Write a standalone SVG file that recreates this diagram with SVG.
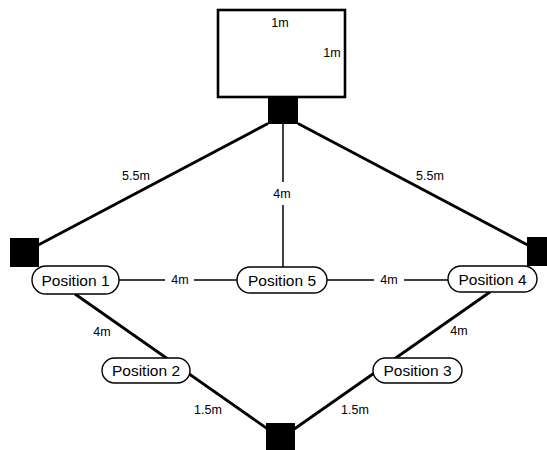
<svg xmlns="http://www.w3.org/2000/svg" width="547" height="450" viewBox="0 0 547 450">
<style>
.thick{stroke:#000;stroke-width:2.8;fill:none}
.thin{stroke:#000;stroke-width:1.5;fill:none}
.sq{fill:#000;stroke:none}
.pill{fill:#fff;stroke:#000;stroke-width:1.4}
.pt{font-family:"Liberation Sans",Arial,sans-serif;font-size:15.5px;fill:#000;text-anchor:middle}
.lb{font-family:"Liberation Sans",Arial,sans-serif;font-size:12.5px;fill:#000;text-anchor:middle}
</style>
<rect width="547" height="450" fill="#fff"/>
<g id="connectors">
<line class="thick" x1="268" y1="123.5" x2="25" y2="252"/>
<line class="thick" x1="298" y1="123.5" x2="541" y2="252"/>
<line class="thick" x1="75" y1="294" x2="272" y2="432"/>
<line class="thick" x1="490" y1="292" x2="290" y2="432"/>
<line class="thin" x1="283" y1="124" x2="283" y2="182"/>
<line class="thin" x1="283" y1="205" x2="283" y2="267"/>
<line class="thin" x1="119" y1="280" x2="165" y2="280"/>
<line class="thin" x1="194" y1="280" x2="237" y2="280"/>
<line class="thin" x1="327" y1="280" x2="374" y2="280"/>
<line class="thin" x1="404" y1="280" x2="448" y2="280"/>
<text class="lb" x="136" y="180">5.5m</text>
<text class="lb" x="430" y="180">5.5m</text>
<text class="lb" x="282" y="198">4m</text>
<text class="lb" x="180" y="284">4m</text>
<text class="lb" x="389" y="284">4m</text>
<text class="lb" x="102" y="336">4m</text>
<text class="lb" x="459" y="334.5">4m</text>
<text class="lb" x="208" y="414">1.5m</text>
<text class="lb" x="355" y="414">1.5m</text>
</g>
<g id="room">
<rect x="218" y="10" width="127" height="87" fill="#fff" stroke="#000" stroke-width="2.6"/>
<text class="lb" x="280" y="27">1m</text>
<text class="lb" x="332" y="57">1m</text>
</g>
<g id="sensor-top"><rect class="sq" x="268" y="96" width="30" height="28"/></g>
<g id="sensor-left"><rect class="sq" x="10" y="238" width="29" height="29"/></g>
<g id="sensor-right"><rect class="sq" x="527" y="237" width="29" height="29"/></g>
<g id="sensor-bottom"><rect class="sq" x="266" y="423" width="29" height="29"/></g>
<g id="position1"><rect class="pill" x="32" y="266" width="87" height="28" rx="14"/><text class="pt" x="75.5" y="285.5">Position 1</text></g>
<g id="position5"><rect class="pill" x="237" y="267" width="90" height="26" rx="13"/><text class="pt" x="282" y="285.5">Position 5</text></g>
<g id="position4"><rect class="pill" x="448" y="266" width="89" height="26" rx="13"/><text class="pt" x="492.5" y="284.5">Position 4</text></g>
<g id="position2"><rect class="pill" x="102" y="358" width="88" height="25" rx="12.5"/><text class="pt" x="146" y="376">Position 2</text></g>
<g id="position3"><rect class="pill" x="373" y="358" width="89" height="25" rx="12.5"/><text class="pt" x="417.5" y="376">Position 3</text></g>
</svg>
